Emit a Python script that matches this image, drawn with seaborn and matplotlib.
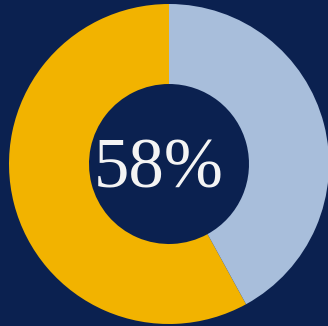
import matplotlib
matplotlib.use('Agg')
import matplotlib.pyplot as plt
from matplotlib import font_manager
import seaborn as sns

# share of the ring
labels = ['Yes', 'No']
values = [58, 42]
colors = ['#f2b300', '#a8bedb']
center_text = '58%'

sns.set_theme(style='white')
bg = '#0b2150'

# pick the Times-like serif face directly from its file
serif_files = [f.fname for f in font_manager.fontManager.ttflist
               if f.name == 'Liberation Serif' and f.style == 'normal' and f.weight in (400, 'normal', 'regular')]
if serif_files:
    fp = font_manager.FontProperties(fname=serif_files[0], size=51)
else:
    fp = font_manager.FontProperties(family='serif', size=51)

fig = plt.figure(figsize=(3.28, 3.26), dpi=100)
fig.patch.set_facecolor(bg)
ax = fig.add_axes([0, 0, 1, 1])
ax.set_facecolor(bg)

ax.pie(values, labels=None, colors=colors, startangle=90, counterclock=True,
       radius=160, center=(0, 0),
       wedgeprops=dict(width=80, edgecolor='none', linewidth=0))
ax.text(-10, -23, center_text, ha='center', va='baseline', color='#f4f4f4',
        fontproperties=fp)

ax.set_xlim(-169, 328 - 169)
ax.set_ylim(-162, 164)
ax.set_aspect('auto')
ax.axis('off')

plt.savefig('out.png', dpi=100, facecolor=bg)
plt.close()
